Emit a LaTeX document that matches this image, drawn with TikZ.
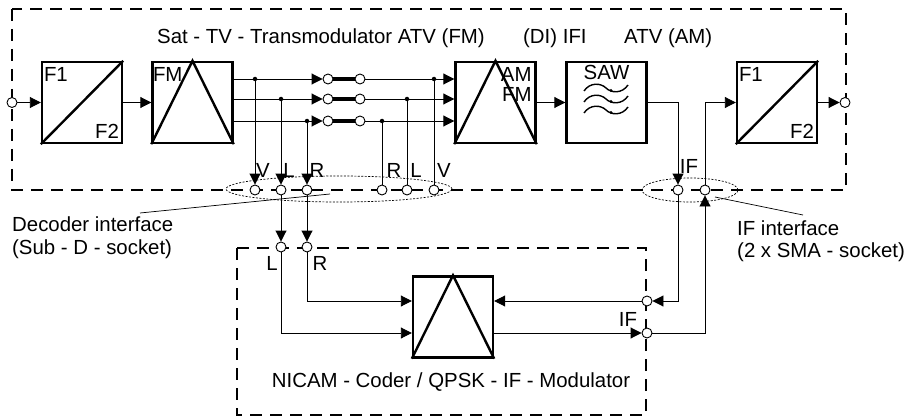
\documentclass[tikz,border=0pt]{standalone}
\usepackage{fontspec}
\setmainfont{Liberation Sans}
\usetikzlibrary{arrows.meta,shapes.geometric}
\begin{document}
\begin{tikzpicture}[x=1pt,y=-1pt,font=\fontsize{20.4pt}{23pt}\selectfont]
  \tikzset{ blk/.style={draw,line width=2.4pt,minimum width=80pt,minimum height=81pt,inner sep=0pt},
    sock/.style={circle,draw,fill=white,line width=0.9pt,inner sep=0pt,minimum size=10pt},
    dot/.style={circle,fill,inner sep=0pt,minimum size=4.5pt},
    sig/.style={line width=0.9pt},
    arr/.style={sig,-{Triangle[length=11pt,width=11pt]}},
    frame/.style={line width=2.6pt,dash pattern=on 12pt off 8pt},
    iface/.style={ellipse,draw,line width=0.7pt,dash pattern=on 2pt off 1.5pt,inner sep=0pt},
    lbl/.style={inner sep=0pt},
  }
  \useasboundingbox (0,0) rectangle (905,417);
  % frames
  \draw[frame] (12,9) rectangle (846,190);
  \draw[frame] (237,248) rectangle (646,415);
  \node[iface,minimum width=226pt,minimum height=26pt] (decif) at (339,189) {};
  \node[iface,minimum width=96pt,minimum height=24pt] (ifif) at (690,190) {};

  \node[lbl,anchor=base west] (title) at (157,44) {Sat - TV - Transmodulator ATV (FM)};
  \node[lbl,anchor=base west] (tifi) at (523,44) {(DI) IFI};
  \node[lbl,anchor=base west] (tam) at (624,44) {ATV (AM)};

  % blocks
  \node[blk] (filt1) at (82,102.5) {};
  \draw[line width=2.4pt] (filt1.south west) -- (filt1.north east);
  \node[lbl,anchor=north west] at ([shift={(3pt,-6pt)}]filt1.north west) {F1};
  \node[lbl,anchor=south east] at ([shift={(-4pt,5pt)}]filt1.south east) {F2};

  \node[blk] (fmmod) at (192.5,102.5) {};
  \draw[line width=2.4pt] (fmmod.south west) -- (fmmod.north) -- (fmmod.south east);
  \node[lbl,anchor=north west] at ([shift={(1.5pt,-6pt)}]fmmod.north west) {FM};

  \node[blk] (ammod) at (495.5,102.5) {};
  \draw[line width=2.4pt] (ammod.south west) -- (ammod.north) -- (ammod.south east);
  \node[lbl,anchor=north east] at ([shift={(-5pt,-6pt)}]ammod.north east) {AM};
  \node[lbl,anchor=north east] at ([shift={(-5pt,-26pt)}]ammod.north east) {FM};

  \node[blk] (saw) at (606.5,102.5) {};
  \node[lbl,anchor=north] at ([shift={(0pt,-4pt)}]saw.north) {SAW};
  \foreach \y in {88,99,110}{
    \draw[line width=1.4pt] (584,\y+3) .. controls (590,\y-6) and (601,\y-5) .. (606,\y)
          .. controls (611,\y+5) and (622,\y+6) .. (628,\y-3);
    \fill (611,\y+2.5) circle (1.6pt);
  }

  \node[blk] (filt2) at (777,102.5) {};
  \draw[line width=2.4pt] (filt2.south west) -- (filt2.north east);
  \node[lbl,anchor=north west] at ([shift={(3pt,-6pt)}]filt2.north west) {F1};
  \node[lbl,anchor=south east] at ([shift={(-4pt,5pt)}]filt2.south east) {F2};

  \node[blk] (nicam) at (453,317) {};
  \draw[line width=2.4pt] (nicam.south west) -- (nicam.north) -- (nicam.south east);
  \node[lbl,anchor=base] (ncap) at (451,387) {NICAM - Coder / QPSK - IF - Modulator};

  % sockets
  \node[sock] (in) at (12,102.5) {};
  \node[sock] (out) at (845,102.5) {};
  \node[sock] (swa1) at (328,79) {};
  \node[sock] (swb1) at (360,79) {};
  \node[sock] (swa2) at (328,99) {};
  \node[sock] (swb2) at (360,99) {};
  \node[sock] (swa3) at (328,121) {};
  \node[sock] (swb3) at (360,121) {};
  \node[sock] (dv) at (255,190) {};
  \node[sock] (dl) at (281,190) {};
  \node[sock] (dr) at (307,190) {};
  \node[sock] (er) at (382,190) {};
  \node[sock] (el) at (407,190) {};
  \node[sock] (ev) at (434,190) {};
  \node[sock] (nl) at (281,247) {};
  \node[sock] (nr) at (307,247) {};
  \node[sock] (ifa) at (678,190) {};
  \node[sock] (ifb) at (705,190) {};
  \node[sock] (mi) at (647,301) {};
  \node[sock] (mo) at (647,333) {};

  \node[dot] (tv) at (255,79) {};
  \node[dot] (tl) at (281,99) {};
  \node[dot] (tr) at (307,121) {};
  \node[dot] (rr) at (382,121) {};
  \node[dot] (rl) at (407,99) {};
  \node[dot] (rv) at (434,79) {};

  % signal paths
  \draw[arr] (in) -- (filt1);
  \draw[arr] (filt1) -- (fmmod);
  \foreach \i in {1,2,3}{
    \draw[arr] (fmmod.east |- swa\i) -- (swa\i);
    \draw[line width=4pt] (swa\i) -- (swb\i);
    \draw[arr] (swb\i) -- (ammod.west |- swb\i);
  }
  \draw[arr] (tv) -- (dv);
  \draw[arr] (tl) -- (dl);
  \draw[arr] (tr) -- (dr);
  \draw[sig] (rr) -- (er);
  \draw[sig] (rl) -- (el);
  \draw[sig] (rv) -- (ev);
  \draw[arr] (dl) -- (nl);
  \draw[arr] (dr) -- (nr);
  \draw[arr] (nr) |- (nicam.west |- mi);
  \draw[arr] (nl) |- (nicam.west |- mo);
  \draw[arr] (mi) -- (nicam.east |- mi);
  \draw[arr] (nicam.east |- mo) -- (mo);
  \draw[arr] (ammod) -- (saw);
  \draw[arr] (saw.east) -| (ifa);
  \draw[arr] (ifa) |- (mi);
  \draw[arr] (mo) -| (ifb);
  \draw[arr] (ifb) |- (filt2.west);
  \draw[arr] (filt2) -- (out);

  % labels
  \node[lbl] (lv1) at (263,170) {V};
  \node[lbl] (ll1) at (289,170) {L};
  \node[lbl] (lr1) at (317,170) {R};
  \node[lbl] (lr2) at (394,170) {R};
  \node[lbl] (ll2) at (416,170) {L};
  \node[lbl] (lv2) at (444,170) {V};
  \node[lbl] (ll3) at (272,263) {L};
  \node[lbl] (lr3) at (320,263) {R};
  \node[lbl] (lif1) at (689,166) {IF};
  \node[lbl] (lif2) at (628,319) {IF};

  % interface captions
  \node[lbl,anchor=base west] (dect1) at (12,231) {Decoder interface};
  \node[lbl,anchor=base west] (dect2) at (12,254) {(Sub - D - socket)};
  \coordinate (decp) at (330,194);
  \coordinate (dece) at (140,213);
  \draw[line width=0.7pt] (decp) -- (dece);
  \node[lbl,anchor=base west] (ift1) at (737,235) {IF interface};
  \node[lbl,anchor=base west] (ift2) at (737,257) {(2 x SMA - socket)};
  \coordinate (ifp) at (715,197);
  \coordinate (ife) at (803,215);
  \draw[line width=0.7pt] (ifp) -- (ife);
\end{tikzpicture}
\end{document}
